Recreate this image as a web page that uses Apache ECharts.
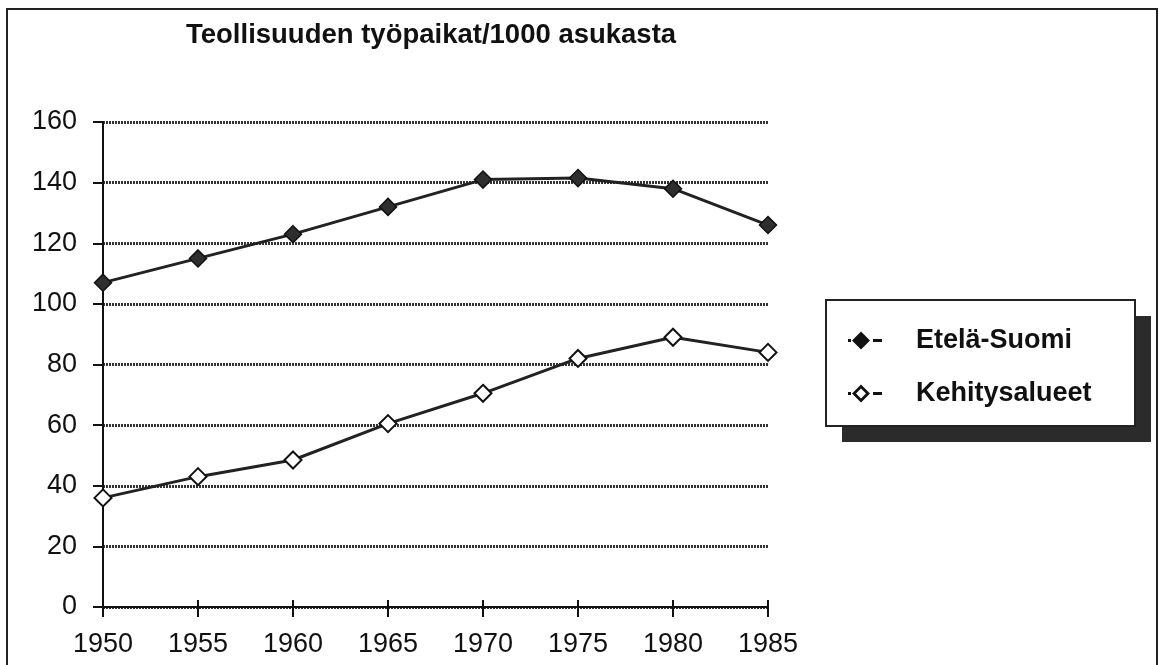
<!DOCTYPE html>
<html>
<head>
<meta charset="utf-8">
<script src="https://cdn.jsdelivr.net/npm/echarts@6/dist/echarts.min.js"></script>
<style>
html, body { margin: 0; padding: 0; background: #fff; }
#chart { width: 1161px; height: 665px; }
</style>
</head>
<body>
<div id="chart"></div>
<script>
const years = [1950, 1955, 1960, 1965, 1970, 1975, 1980, 1985]
const etelaSuomi = [107, 115, 123, 132, 141, 141.5, 138, 126]
const kehitysalueet = [36, 43, 48.5, 60.5, 70.5, 82, 89, 84]
const seriesNames = ['Etelä-Suomi', 'Kehitysalueet']

const font = '"Liberation Sans", Arial, sans-serif'

// legend keys: dot, diamond, dash (hollow one has a reversed inner diamond)
const iconSolid = 'path://M0 7.5L3 7.5L3 10.5L0 10.5Z M13 0L22 9L13 18L4 9Z M25 7.5L34 7.5L34 10.5L25 10.5Z'
const iconHollow = 'path://M0 7.5L3 7.5L3 10.5L0 10.5Z M13 0L22 9L13 18L4 9Z M13 4L8 9L13 14L18 9Z M25 7.5L34 7.5L34 10.5L25 10.5Z'

function pairs(vals) {
  return years.map((y, i) => [y, vals[i]])
}

let myChart = echarts.init(document.getElementById('chart'), null, {renderer: 'canvas'})

let option = {
  backgroundColor: '#fff',
  animation: false,
  title: {
    text: 'Teollisuuden työpaikat/1000 asukasta',
    left: 181,
    top: 16,
    textStyle: {
      fontFamily: font,
      fontSize: 27.5,
      fontWeight: 'bold',
      color: '#111'
    }
  },
  graphic: [
    {
      type: 'rect',
      shape: {x: 7, y: 9, width: 1150, height: 700},
      style: {fill: 'none', stroke: '#222', lineWidth: 2},
      z: 0
    },
    {
      type: 'rect',
      shape: {x: 842, y: 316, width: 309, height: 126},
      style: {fill: '#2b2b2b'},
      z: 1
    },
    {
      type: 'rect',
      shape: {x: 826, y: 300, width: 309, height: 126},
      style: {fill: '#fff', stroke: '#222', lineWidth: 2},
      z: 2
    }
  ],
  legend: {
    orient: 'vertical',
    left: 843,
    top: 322,
    itemGap: 26,
    itemWidth: 34,
    itemHeight: 18,
    z: 10,
    textStyle: {
      fontFamily: font,
      fontSize: 27,
      fontWeight: 'bold',
      color: '#111',
      padding: [0, 0, 0, 29]
    },
    data: [
      {name: seriesNames[0], icon: iconSolid, itemStyle: {color: '#111', borderWidth: 0}},
      {name: seriesNames[1], icon: iconHollow, itemStyle: {color: '#111', borderWidth: 0}}
    ]
  },
  grid: {
    left: 103,
    right: 393,
    top: 122,
    bottom: 58
  },
  xAxis: [
    {
      type: 'value',
      min: 1950,
      max: 1985,
      interval: 5,
      position: 'bottom',
      axisLine: {show: true, onZero: false, lineStyle: {color: '#111', width: 2}},
      axisTick: {show: true, length: 10, lineStyle: {color: '#111', width: 2}},
      axisLabel: {
        color: '#111',
        fontFamily: font,
        fontSize: 27,
        margin: 24,
        formatter: v => String(v)
      },
      splitLine: {show: false}
    },
    {
      // inner half of the crossing ticks
      type: 'value',
      min: 1950,
      max: 1985,
      interval: 5,
      position: 'bottom',
      offset: 0,
      axisLine: {show: false, onZero: false},
      axisTick: {show: true, inside: true, length: 7, lineStyle: {color: '#111', width: 2}},
      axisLabel: {show: false},
      splitLine: {show: false}
    }
  ],
  yAxis: {
    type: 'value',
    min: 0,
    max: 160,
    interval: 20,
    axisLine: {show: true, onZero: false, lineStyle: {color: '#111', width: 2}},
    axisTick: {show: true, length: 10, lineStyle: {color: '#111', width: 2}},
    axisLabel: {
      color: '#111',
      fontFamily: font,
      fontSize: 27,
      margin: 26
    },
    splitLine: {
      show: true,
      lineStyle: {color: '#333', width: 3, type: [2, 1]}
    }
  },
  series: [
    {
      name: seriesNames[0],
      type: 'line',
      data: pairs(etelaSuomi),
      symbol: 'diamond',
      symbolSize: 17,
      lineStyle: {color: '#222', width: 3},
      itemStyle: {color: '#2e2e2e', borderColor: '#111', borderWidth: 1.5},
      z: 5
    },
    {
      name: seriesNames[1],
      type: 'line',
      data: pairs(kehitysalueet),
      symbol: 'diamond',
      symbolSize: 17,
      lineStyle: {color: '#222', width: 3},
      itemStyle: {color: '#fff', borderColor: '#111', borderWidth: 2},
      z: 5
    }
  ]
}

myChart.setOption(option)
</script>
</body>
</html>
